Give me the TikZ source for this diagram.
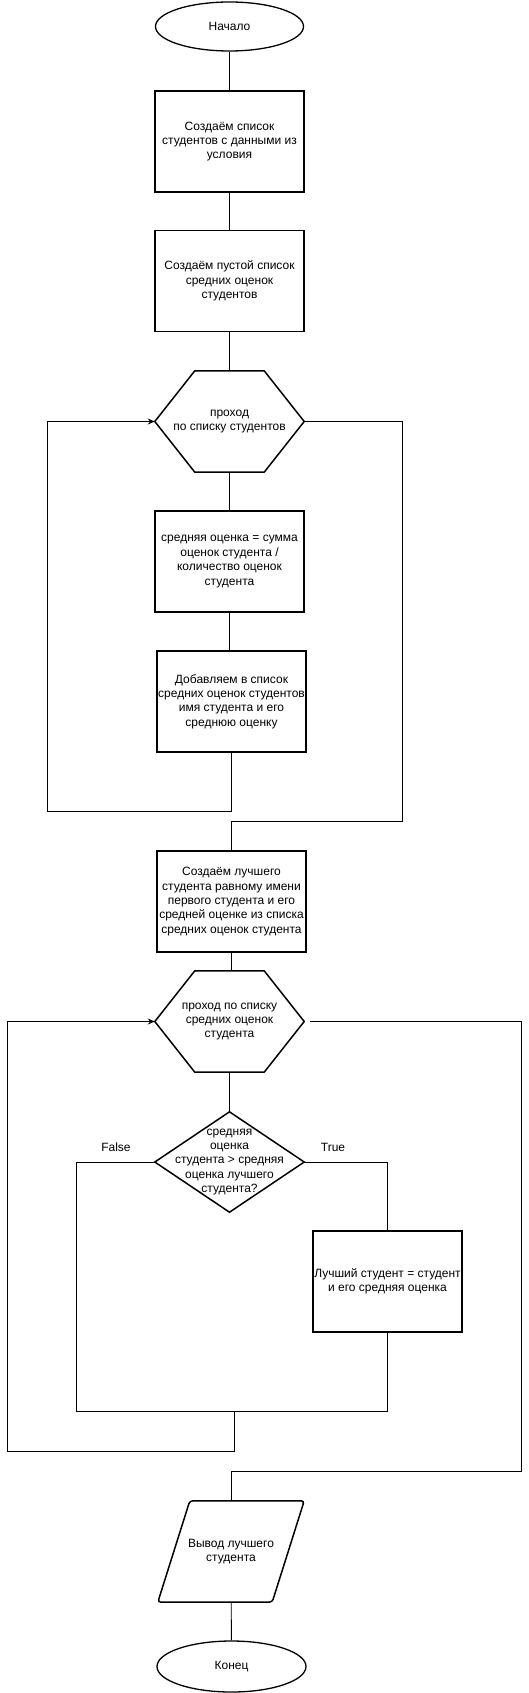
\documentclass[tikz,border=0pt]{standalone}
\usepackage{fontspec}
\setmainfont{Liberation Sans}
\usetikzlibrary{shapes.geometric}
\usetikzlibrary{calc}
\usetikzlibrary{arrows.meta}

\tikzset{
  txt/.style={font=\fontsize{12}{14.4}\selectfont, align=center, inner sep=0pt},
  blok/.style={txt, draw, line width=1.5pt, minimum width=149pt, minimum height=101pt},
  term/.style={txt, draw, ellipse, line width=1.3pt},
  frame/.style={txt, minimum width=149pt, minimum height=101pt},
  outline/.style={line width=1.5pt, line join=miter},
  wire/.style={line width=0.9pt},
}
\newcommand\hexa[1]{\draw[outline] (#1.west) -- ($(#1.north west)+(40,0)$) -- ($(#1.north east)+(-40,0)$) -- (#1.east) -- ($(#1.south east)+(-40,0)$) -- ($(#1.south west)+(40,0)$) -- cycle;}

\begin{document}
\begin{tikzpicture}[x=1pt,y=-1pt,>={Stealth[length=7pt,width=6pt]}]
  \useasboundingbox (0,0) rectangle (529,1693);

  % first part
  \node[term, minimum width=148pt, minimum height=49pt] (start) at (229.5,26.5) {Начало};
  \node[blok] (list) at (229.5,141.5) {Создаём список\\студентов с данными из\\условия};
  \node[blok] (empty) at (229.5,281) {Создаём пустой список\\средних оценок\\студентов};
  \node[frame] (loopA) at (229.5,421.5) {проход\\по списку студентов};
  \hexa{loopA}
  \node[blok] (avg) at (229.5,561.5) {средняя оценка = сумма\\оценок студента /\\количество оценок\\студента};
  \node[blok] (add) at (231.5,701.5) {Добавляем в список\\средних оценок студентов\\имя студента и его\\среднюю оценку};

  % second part
  \node[blok] (best) at (231.5,901.5) {Создаём лучшего\\студента равному имени\\первого студента и его\\средней оценке из списка\\средних оценок студента};
  \node[frame] (loopB) at (229.5,1021.5) {проход по списку\\средних оценок\\студента};
  \hexa{loopB}
  \node[frame, minimum height=100pt] (cmp) at (229.5,1162) {средняя\\оценка\\студента > средняя\\оценка лучшего\\студента?};
  \draw[outline] (cmp.north) -- (cmp.east) -- (cmp.south) -- (cmp.west) -- cycle;
  \node[blok] (swap) at (387.5,1281.5) {Лучший студент = студент\\и его средняя оценка};
  \node[txt] (no) at (116,1147) {False};
  \node[txt] (yes) at (333,1147) {True};

  \node[frame, minimum width=114pt] (out) at (231,1551.5) {Вывод лучшего\\студента};
  \draw[outline, rounded corners=3pt] ($(out.south west)+(-16,0)$) -- ($(out.north west)+(16,0)$) -- ($(out.north east)+(16,0)$) -- ($(out.south east)+(-16,0)$) -- cycle;
  \node[term, minimum width=149pt, minimum height=51pt] (stop) at (231.5,1666.5) {Конец};

  % rails
  \coordinate (backA) at (47,811);
  \coordinate (exitA) at (402,821);
  \coordinate (joinL) at (76.5,1411);
  \coordinate (joinM) at (234.5,1411);
  \coordinate (backB) at (7,1451);
  \coordinate (exitB) at (521,1471);

  \draw[wire] (start) -- (list);
  \draw[wire] (list) -- (empty);
  \draw[wire] (empty) -- (loopA);
  \draw[wire] (loopA) -- (avg);
  \draw[wire] (avg.south) -- (avg.south |- add.north);
  \draw[wire,->] (add.south) |- (backA) |- (loopA.west);
  \draw[wire] (loopA.east) -| (exitA) -| (best.north);
  \draw[wire] (best.south) -- (best.south |- loopB.north);
  \draw[wire] (loopB) -- (cmp);
  \draw[wire] (cmp.east) -| (swap.north);
  \draw[wire] (cmp.west) -| (joinL) -| (swap.south);
  \draw[wire,->] (joinM) |- (backB) |- (loopB.west);
  \draw[wire] ($(loopB.east)+(6,0)$) -| (exitB) -| (out.north);
  \draw[wire] (out) -- (stop);
\end{tikzpicture}
\end{document}
